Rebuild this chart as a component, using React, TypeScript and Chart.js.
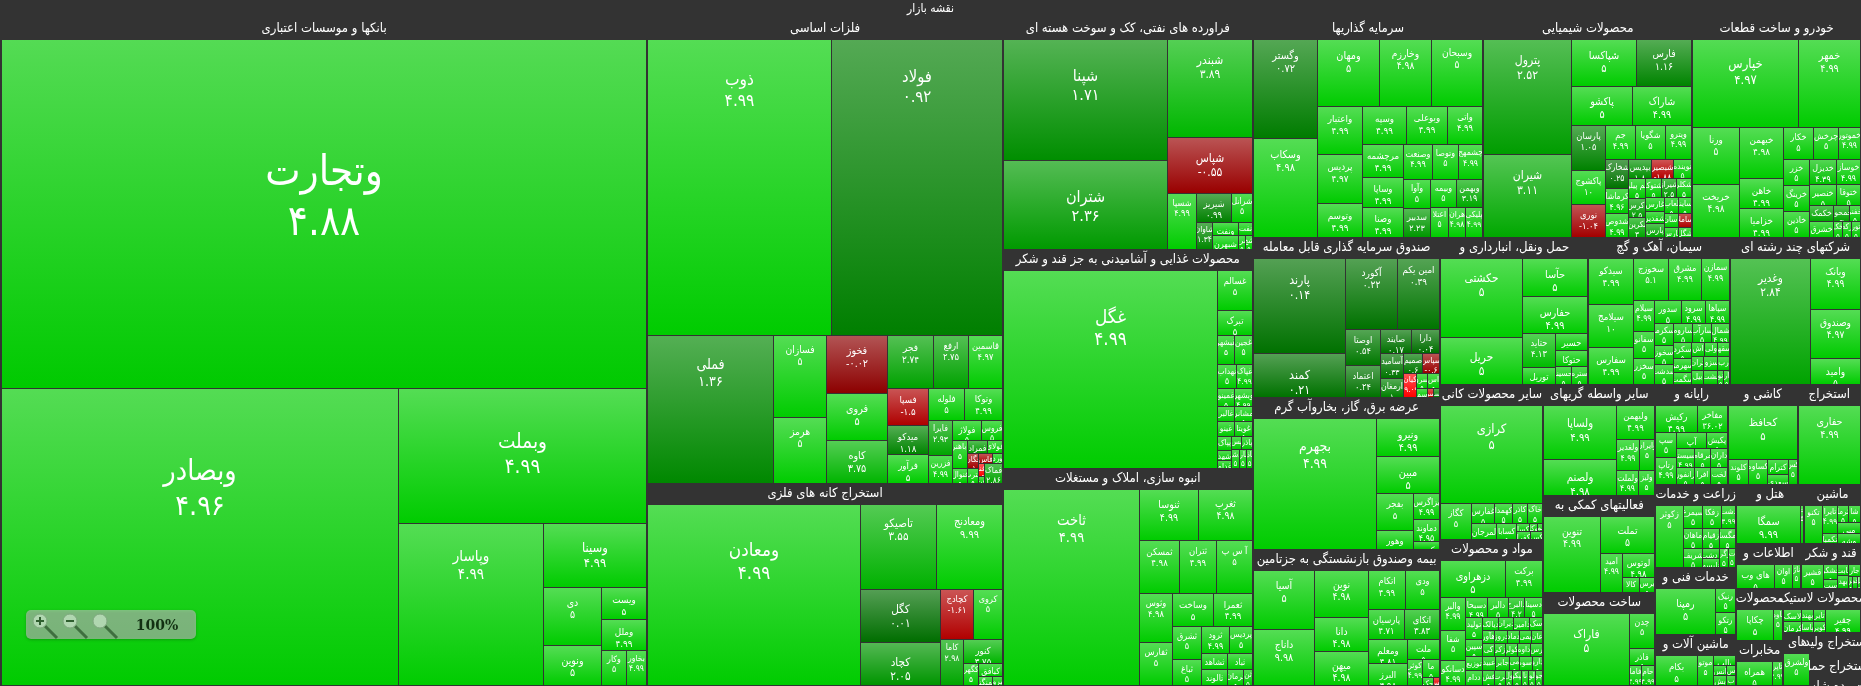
import React, { useEffect, useRef } from "react";
import { Chart, registerables, DatasetController, Element } from "chart.js";

// A leaf is [name, percent change, market weight]; ["h"|"v", ...children] nests groups side by side or stacked.
const banks = ["v", ["وتجارت", 4.88, 224407], ["h", ["وبصادر", 4.96, 117612], ["v", ["وبملت", 4.99, 33345], ["h", ["وپاسار", 4.99, 23328], ["v", ["وسینا", 4.99, 6592], ["h", ["v", ["دی", 5, 3364], ["ونوین", 5, 2320]], ["v", ["ویست", 5, 1440], ["وملل", 4.99, 1395], ["h", ["وکار", 5, 875], ["بخاور", 4.99, 700
]]]]]
]]]];
const metals = ["v", ["h", ["ذوب", 4.99, 53600], ["فولاد", 0.92, 50100]], ["h", ["فملی", 1.36, 18300], ["v", ["فسازان", 5, 4293], ["هرمز", 5, 3500]], ["v", ["فخوز", -0.02, 3420], ["فروی", 5, 2820], ["کاوه", 3.75, 2580]], ["v", ["h", ["فجر", 2.74, 2397], ["ارفع", 2.75, 1836], ["قاسمین", 4.97, 1734]], ["h", ["v", ["فسپا", -1.5, 1512], ["میدکو", 1.18, 1218], ["فرآور", 5, 1176]], ["v", ["h", ["فلوله", 5, 1152], ["وتوکا", 4.99, 1216]], ["h", ["v", ["فایرا", 2.93, 805], ["فزرین", 4.99, 644]], ["v", ["h", ["فولاژ", 5, 560], ["فروس", 5, 400]], ["h", ["v", ["اباهنر", 5, 420], ["فنوال", 5, 225]], ["v", ["h", ["فمراد", 2.5, 260], ["فولای", 5, 195]], ["h", ["v", ["فگان", -1.0, 165], ["فترب", 5, 165]], ["v", ["h", ["فاس", -1.2, 140], ["ورد", 5, 100]], ["h", ["v", ["فنا", -5, 72], ["فن", 5, 42]], ["فماک", 2.86, 342
]]]]]
]]]]]
]]];
const mining = ["h", ["ومعادن", 4.99, 38372], ["v", ["h", ["تاصیکو", 3.55, 6375], ["ومعادنج", 9.99, 5610]], ["h", ["v", ["کگل", 0.01, 4187], ["کچاد", 2.05, 3397]], ["v", ["h", ["کچادج", -1.61, 1650], ["کروی", 5, 1450]], ["h", ["کاما", 2.98, 1058], ["v", ["کنور", 3.75, 897], ["h", ["کگهر", 5, 330], ["v", ["کبافق", 5, 312], ["h", ["کمنگنز", 5, 126], ["کپرور", 5, 90
]]]]]
]]]]];
const oil = ["h", ["v", ["شپنا", 1.71, 19320], ["شتران", 2.36, 14329]], ["v", ["شبندر", 3.89, 8160], ["شپاس", -0.55, 4675], ["h", ["شسپا", 4.99, 1585], ["v", ["h", ["شیریز", 0.99, 980], ["شرانل", 5, 588]], ["h", ["شاوان", 1.34, 432], ["v", ["h", ["ونفت", 5, 325], ["نفت", 5, 169]], ["h", ["شبهرن", 5, 350], ["شراز", 5, 98], ["شج", 5, 84
]]]]]
]]];
const food = ["h", ["غگل", 4.99, 41778], ["v", ["غسالم", 5, 1368], ["تبرک", 5, 864], ["h", ["غبشهر", 5, 504], ["غجین", 5, 504]], ["h", ["نهداب", 5, 460], ["غپاک", 4.99, 368]], ["h", ["غمینو", 5, 306], ["وبشهر", 4.99, 306]], ["h", ["غالبر", 5, 270], ["مشانر", 5, 270]], ["h", ["غینو", 5, 252], ["غویتا", 5, 252]], ["h", ["v", ["پپاک", 5, 196], ["شهد", 5, 140], ["غدام", 5, 112]], ["v", ["h", ["پس", 5, 132], ["پاذر", 5, 132]], ["h", ["غدشت", 5, 150], ["غمارگ", 5, 130], ["غاذر", 5, 110
]]]]]
];
const building = ["h", ["ثاخت", 4.99, 26264], ["v", ["h", ["ثنوسا", 4.99, 2950], ["ثغرب", 4.98, 2700]], ["h", ["ثمسکن", 4.98, 2120], ["ثتران", 4.99, 1961], ["آ س پ", 5, 1908]], ["h", ["v", ["وثوس", 4.98, 1617], ["ثفارس", 5, 1452]], ["v", ["h", ["وساخت", 5, 1353], ["ثعمرا", 4.99, 1254]], ["h", ["v", ["ثشرق", 5, 924], ["ثباغ", 5, 756]], ["v", ["h", ["ثرود", 4.99, 728], ["پردیس", 5, 598]], ["h", ["v", ["ثشاهد", 5, 390], ["ثالوند", 5, 416]], ["v", ["ثباد", 5, 375], ["h", ["ثرمان", 5, 256], ["ثن", 5, 144
]]]]]
]]]]];
const investment = ["h", ["v", ["وگستر", 0.72, 6336], ["وسکاب", 4.98, 6336]], ["v", ["h", ["ومهان", 5, 4092], ["وخارزم", 4.98, 3432], ["وسبحان", 5, 3432]], ["h", ["v", ["واعتبار", 4.99, 2160], ["پردیس", 4.97, 2160], ["وتوسم", 4.99, 1530]], ["v", ["h", ["وسپه", 4.99, 1628], ["وبوعلی", 4.99, 1517], ["واتی", 4.99, 1332]], ["h", ["v", ["مرچشمه", 4.99, 1320], ["وساپا", 4.99, 1200], ["وصنا", 4.99, 1200]], ["v", ["h", ["وصنعت", 4.99, 1015], ["وتوصا", 5, 910], ["چشمهج", 4.99, 875]], ["h", ["v", ["وآوا", 5, 783], ["سدبیر", 2.23, 783]], ["v", ["h", ["وبیمه", 5, 702], ["وبهمن", 3.19, 729]], ["h", ["اعتلا", 5, 522], ["هران", 4.98, 493], ["پلیکی", 4.99, 522
]]]]]
]]]]];
const chemicals = ["h", ["v", ["پترول", 2.52, 9775], ["شیران", 3.11, 7055]], ["v", ["h", ["شپاکسا", 5, 2925], ["فارس", 1.16, 2520]], ["h", ["پاکشو", 5, 2340], ["شاراک", 4.99, 2262]], ["h", ["v", ["پارسان", 1.05, 1452], ["پاکشوج", 10, 1089], ["نوری", -1.04, 1089]], ["v", ["h", ["جم", 4.99, 990], ["شگویا", 5, 990], ["ویترو", 4.99, 858]], ["h", ["v", ["شخارک", 0.25, 638], ["کرماشا", 4.96, 550], ["شدوص", 4.99, 528]], ["v", ["h", ["بپدیس", 1.8, 414], ["شبصیر", -1.88, 396], ["نوینده", 5, 324]], ["h", ["v", ["جم پیلن", 5, 340], ["اکرس", 2.5, 323], ["نکرین", 3, 340]], ["v", ["h", ["شتوکا", 5, 288], ["شیراز", 2.5, 288], ["شکلر", 5, 270]], ["h", ["v", ["غارس", 5, 252], ["شفدیر", 5, 216], ["پارس", 3, 252]], ["v", ["h", ["لعاب", 5, 224], ["ساینا", 5, 208]], ["h", ["اسان", 5, 196], ["ساملا", -1.5, 182]], ["h", ["پارس", 5, 140], ["شگل", 5, 130
]]]]]
]]]]]
]];
const automotive = ["v", ["h", ["خپارس", 4.97, 9202], ["خمهر", 4.99, 5332]], ["h", ["v", ["ورنا", 5, 2622], ["خریخت", 4.98, 2438]], ["v", ["خبهمن", 4.98, 2193], ["خاهن", 4.99, 1290], ["خزامیا", 4.99, 1247]], ["v", ["h", ["خکار", 5, 930], ["چرخش", 5, 806], ["خموتور", 4.99, 682]], ["h", ["v", ["خزر", 5, 650], ["خرینگ", 5, 650], ["خاذین", 5, 650]], ["v", ["h", ["خدیزل", 4.39, 644], ["خوساز", 4.99, 575]], ["h", ["خنصیر", 5, 560], ["ختوقا", 5, 500]], ["h", ["v", ["خکمک", 3, 384], ["خشرق", 5, 384]], ["v", ["h", ["خمحور", 3, 256], ["خفنر", 5, 176]], ["h", ["خک", 5, 144], ["رکه", 5, 144], ["تور", 5, 144
]]]]]
]]]];
const etf = ["h", ["v", ["پارند", 0.14, 8640], ["کمند", 0.21, 3960]], ["v", ["h", ["آکورد", 0.22, 3640], ["امین یکم", 0.39, 3010]], ["h", ["v", ["اوصتا", 0.54, 1260], ["اعتماد", 0.24, 1120]], ["v", ["h", ["صایند", 0.17, 720], ["دارا", 0.04, 672]], ["h", ["v", ["آسامید", 0.33, 550], ["ارمغان", 1, 418]], ["v", ["h", ["صمیم", 0.6, 380], ["سپاس", -0.6, 340]], ["h", ["کیان", -9.09, 312], ["v", ["h", ["سرو", 5, 165], ["اس", 5, 180]], ["h", ["سم", 5, 99], ["سر", -3, 54], ["سا", 1, 54
]]]]]
]]]]];
const power = ["h", ["بجهرم", 4.99, 15840], ["v", ["ونیرو", 4.99, 2405], ["مبین", 5, 2275], ["h", ["v", ["بفجر", 5, 1369], ["وهور", 5, 703]], ["v", ["بزاگرس", 4.99, 676], ["دماوند", 4.95, 572], ["بکهنوج", 5, 208
]]]]];
const insurance = ["h", ["v", ["آسیا", 5, 3540], ["داناج", 9.98, 3360]], ["v", ["نوین", 4.98, 2491], ["دانا", 4.98, 1802], ["میهن", 4.98, 1802]], ["v", ["h", ["اتکام", 4.99, 1406], ["ودی", 5, 1330]], ["h", ["پارسیان", 4.71, 1044], ["اتکای", 3.83, 1044]], ["h", ["v", ["ومعلم", 4.81, 936], ["البرز", 4.98, 858]], ["v", ["ملت", 5, 640], ["h", ["کوثر", 4.99, 390], ["v", ["ما", 5, 306], ["h", ["حک", 5, 88], ["بس", -4, 48
]]]]]
]]];
const transport = ["h", ["v", ["حکشتی", 5, 6320], ["حریل", 5, 3713]], ["v", ["حآسا", 5, 2442], ["حفارس", 4.99, 2376], ["h", ["v", ["حتاید", 4.13, 1122], ["توریل", 5, 561]], ["v", ["حسیر", 5, 544], ["حتوکا", 5, 512], ["h", ["حسینا", 5, 288], ["ستره", 5, 288
]]]]]
];
const cement = ["h", ["v", ["سیدکو", 4.99, 1978], ["سیلامج", 10, 1849], ["سفارس", 4.99, 1591]], ["v", ["h", ["سخوزج", 5.1, 1476], ["مشرق", 4.99, 1353], ["سمازن", 4.99, 1148]], ["h", ["v", ["سیلام", 4.99, 651], ["سفانو", 5, 588], ["سخزر", 5, 546]], ["v", ["h", ["سدور", 5, 598], ["سرود", 4.99, 529], ["سپاها", 4.99, 552]], ["h", ["v", ["سکرما", 5, 396], ["سخوز", 5, 342], ["سدشت", 5, 378]], ["v", ["h", ["ساروم", 5, 342], ["سارآب", 5, 342], ["شمال", 4.99, 324]], ["h", ["v", ["سکرد", 5, 272], ["سهرمز", 5, 238], ["سگمت", 5, 204]], ["v", ["h", ["اش", 5, 182], ["ولی", 5, 168], ["سقها", 5, 168]], ["h", ["تران", 5, 168], ["سزوا", 5, 182], ["رب", 5, 168]], ["h", ["بیل", 5, 168], ["نشت", 5, 182], ["نو", 5, 84], ["ار", 5, 84
]]]]]
]]]]];
const multiIndustry = ["h", ["وغدیر", 2.84, 10000], ["v", ["وبانک", 4.99, 2499], ["وصندوق", 4.97, 2450], ["وامید", 5, 1274
]]];
const otherMinerals = ["v", ["کرازی", 5, 9595], ["h", ["کگاز", 5, 1073], ["v", ["h", ["غفارس", 5, 440], ["کهمدا", 5, 360], ["کاذر", 5, 300], ["خاک", 5, 300]], ["h", ["لمرجان", 5, 374], ["کسابا", 5, 306], ["v", ["h", ["کسا", 5, 96], ["وکا", 5, 64], ["لم", 5, 40]], ["h", ["کفرا", 5, 110], ["کس", 5, 90
]]]]]
]];
const materials = ["v", ["h", ["دزهراوی", 5, 2240], ["برکت", 4.99, 1295]], ["h", ["v", ["والبر", 4.99, 782], ["شفا", 5, 690], ["دسانکو", 4.99, 575]], ["v", ["h", ["دسبحا", 4.99, 418], ["دالبر", 5, 399], ["دالبرج", 4.2, 323], ["دسینا", 5, 342]], ["h", ["v", ["تولید", 5, 368], ["سپین", 5, 272], ["توزیع", 5, 224], ["ددام", 5, 240]], ["v", ["h", ["دیالک", 5, 200], ["دیران", 5, 180], ["دامین", 5, 200], ["سک", 5, 160]], ["h", ["هآور", 5, 150], ["دروز", 5, 170], ["دماد", 5, 150], ["یمی", 5, 150], ["عان", 5, 150]], ["h", ["کی", 5, 150], ["ازکی", 5, 150], ["کولر", 5, 150], ["داوه", 5, 160], ["رس", 5, 160]], ["h", ["عبید", 5, 170], ["جابر", 5, 170], ["می", 5, 130], ["اسوه", 5, 170], ["دارو", 5, 130]], ["h", ["فش", 5, 170], ["برت", 5, 170], ["ول", 5, 100], ["بیکو", 5, 130], ["نا", 5, 100], ["لو", 5, 100], ["جو", 5, 100
]]]]]
]];
const brokers = ["h", ["v", ["ولساپا", 4.99, 3780], ["ولصنم", 4.98, 2520]], ["v", ["ولبهمن", 4.99, 1254], ["h", ["ولغدیر", 4.99, 660], ["وایران", 5, 450]], ["h", ["ولملت", 4.99, 528], ["ولیز", 5, 384
]]]];
const support = ["h", ["تنوین", 4.99, 4180], ["v", ["تملت", 5, 1961], ["h", ["امید", 4.99, 858], ["v", ["لوتوس", 4.98, 744], ["h", ["کالا", 5, 240], ["برس", 5, 225
]]]]]
];
const fabricated = ["h", ["فاراک", 5, 6048], ["v", ["چدن", 5, 875], ["فاذر", 5, 425], ["h", ["فاما", 4.99, 240], ["حام", 4.99, 260
]]]];
const computing = ["v", ["h", ["رکیش", 4.99, 1066], ["مفاخر", 36.02, 780]], ["h", ["v", ["سپ", 5, 520], ["رتاپ", 4.99, 540]], ["v", ["h", ["آپ", 5, 480], ["پکیش", 5, 336]], ["h", ["رسیستم", 4.99, 324], ["مرقام", 5, 288], ["داران", 5, 306]], ["h", ["رانفور", 5, 288], ["افرا", 5, 256], ["لخت", 5, 272
]]]]];
const ceramics = ["v", ["کحافظ", 5, 3726], ["h", ["کلوند", 5, 500], ["کساوه", 5, 475], ["v", ["کترام", 5, 315], ["سعدی", 5, 210]], ["کس", 5, 225
]]];
const extraction = ["h", ["حفاری", 4.99, 4977]];
const farming = ["h", ["زکوثر", 5, 1674], ["v", ["h", ["سیمرغ", 5, 437], ["زفکا", 5, 437], ["دشت", 4.99, 322]], ["h", ["ماهان", 5, 361], ["زقیام", 5, 323], ["مگسا", 5, 304]], ["h", ["شریف", 5, 361], ["v", ["زدشت", 5, 170], ["تلیسه", 5, 153]], ["زگرا", 5, 171], ["ت", 5, 133
]]]];
const technical = ["h", ["رمپنا", 5, 2714], ["v", ["رنیک", 5, 480], ["رتکو", 5, 440
]]];
const machinery = ["h", ["بکام", 5, 1230], ["موتو", 5, 450], ["v", ["بالب", 5, 220], ["h", ["انس", 5, 130], ["س", 5, 90]], ["h", ["بش", 5, 130], ["ب", 5, 90
]]]];
const hotels = ["h", ["سمگا", 9.99, 2432], ["ت", 5, 114]];
const equipment = ["h", ["تکنو", 5, 646], ["v", ["تایرا", 4.99, 420], ["تکمبا", 5, 150]], ["v", ["h", ["ثرما", 5, 170], ["شا", 5, 204]], ["مبی", 5, 242], ["وشه", 5, 220
]]];
const information = ["h", ["های وب", 5, 864], ["اوان", 5, 408], ["ناژ", 5, 192]];
const sugar = ["h", ["قشیر", 5, 504], ["v", ["قشکر", 5, 210], ["ست", 5, 126]], ["v", ["ثابت", 5, 110], ["بهد", 5, 130]], ["v", ["جار", 5, 140], ["h", ["قن", 5, 50], ["قم", 5, 50], ["قل", 5, 40
]]]];
const paper = ["h", ["چکاپا", 5, 1085], ["ناوه", 5, 270]];
const telecom = ["h", ["همراه", 5, 805], ["تایر", 4.99, 230]];
const rubber = ["h", ["v", ["لاسک", 5, 216], ["کرمان", 5, 198]], ["v", ["بهند", 5, 144], ["پاسا", 5, 132]], ["v", ["تایر", 5, 132], ["کویر", 5, 121]], ["چقیر", 4.99, 805]];
const products = ["h", ["ولشرق", 5, 780], ["", null, 60]];

const sectorTitles: any = {
  banks: "بانکها و موسسات اعتباری", metals: "فلزات اساسی", mining: "استخراج کانه های فلزی",
  oil: "فراورده های نفتی، کک و سوخت هسته ای", food: "محصولات غذایی و آشامیدنی به جز قند و شکر", building: "انبوه سازی، املاک و مستغلات",
  investment: "سرمایه گذاریها", chemicals: "محصولات شیمیایی", automotive: "خودرو و ساخت قطعات",
  etf: "صندوق سرمایه گذاری قابل معامله", power: "عرضه برق، گاز، بخاروآب گرم", insurance: "بیمه وصندوق بازنشستگی به جزتامین",
  transport: "حمل ونقل، انبارداری و", cement: "سیمان، آهک و گچ", multiIndustry: "شرکتهای چند رشته ای",
  otherMinerals: "سایر محصولات کانی", materials: "مواد و محصولات", brokers: "سایر واسطه گریهای", support: "فعالیتهای کمکی به", fabricated: "ساخت محصولات",
  computing: "رایانه و", ceramics: "کاشی و", extraction: "استخراج", farming: "زراعت و خدمات", technical: "خدمات فنی و", machinery: "ماشین آلات و",
  hotels: "هتل و", equipment: "ماشین", information: "اطلاعات و", sugar: "قند و شکر", paper: "محصولات", telecom: "مخابرات", rubber: "محصولات لاستیک",
  products: "های", quarry: "استخراج ولید", wood: "استخراج حمل", leather: "ت رده شاں",
};
const sectorWeights: any = {
  banks: 431505, metals: 165540, mining: 71912, oil: 57750, food: 54750, building: 54250, investment: 50589, chemicals: 45771, automotive: 37011,
  etf: 30080, power: 28576, insurance: 25568, transport: 21756, cement: 20874, multiIndustry: 19257, otherMinerals: 15965, materials: 15038,
  brokers: 12432, support: 10864, fabricated: 10416, computing: 7300, ceramics: 6950, extraction: 6350, farming: 6723, technical: 5427, machinery: 4131,
  hotels: 4012, equipment: 3363, information: 2925, sugar: 2700, paper: 2444, telecom: 2115, rubber: 3432, products: 1537, quarry: 1176, wood: 980, leather: 441,
};
const sectorCells: any = {
  banks, metals, mining, oil, food, building, investment, chemicals, automotive, etf, power, insurance, transport, cement, multiIndustry,
  otherMinerals, materials, brokers, support, fabricated, computing, ceramics, extraction, farming, technical, machinery, hotels, equipment,
  information, sugar, paper, telecom, rubber, products, quarry: null, wood: null, leather: null,
};
const marketTree = ["h", "banks", ["v", "metals", "mining"], ["v", "oil", "food", "building"],
  ["v", ["h", "investment", "chemicals", "automotive"],
    ["h", ["v", "etf", "power", "insurance"],
      ["v", ["h", "transport", "cement", "multiIndustry"],
        ["h", ["v", "otherMinerals", "materials"], ["v", "brokers", "support", "fabricated"],
          ["v", ["h", "computing", "ceramics", "extraction"],
            ["h", ["v", "farming", "technical", "machinery"],
              ["v", ["h", "hotels", "equipment"], ["h", "information", "sugar"],
                ["h", ["v", "paper", "telecom"], ["v", "rubber", ["h", "products", ["v", "quarry", "wood", "leather"
]]]]]
]]]]]
]];

const chartTitle = "نقشه بازار";
const zoomLabel = "100%";
const PLOT = { x0: 1, y0: 19, x1: 1861, y1: 686, header: 21 };
const ARABIC_FONT = '"DejaVu Sans Condensed", "DejaVu Sans", sans-serif';

const isSplit = (n: any) => Array.isArray(n) && (n[0] === "h" || n[0] === "v");
const weightOf = (n: any): number =>
  typeof n === "string" ? sectorWeights[n] : isSplit(n) ? n.slice(1).reduce((s: number, c: any) => s + weightOf(c), 0) : n[2];

function place(node: any, x0: number, y0: number, x1: number, y1: number, out: any[]) {
  if (isSplit(node)) {
    const kids = node.slice(1);
    const total = kids.reduce((s: number, c: any) => s + weightOf(c), 0);
    let acc = 0;
    for (const kid of kids) {
      const a = acc / total;
      acc += weightOf(kid);
      const b = acc / total;
      if (node[0] === "h") place(kid, x0 + (x1 - x0) * a, y0, x0 + (x1 - x0) * b, y1, out);
      else place(kid, x0, y0 + (y1 - y0) * a, x1, y0 + (y1 - y0) * b, out);
    }
  } else if (typeof node === "string") {
    const h = Math.min(PLOT.header, y1 - y0);
    out.push({ kind: "header", x: x0, y: y0, x0, y0, x1, y1: y0 + h, name: sectorTitles[node] });
    if (sectorCells[node]) place(sectorCells[node], x0 + 1, y0 + h, x1, y1, out);
  } else if (node[1] !== null) {
    out.push({ kind: "leaf", x: x0, y: y0, x0, y0, x1, y1, name: node[0], pct: node[1] });
  }
}

const toPersian = (v: number) => String(v).replace(/\d/g, (d) => "۰۱۲۳۴۵۶۷۸۹"[Number(d)]);
function baseColor(p: number): number[] {
  if (p < 0) return [Math.min(255, 140 + (-p / 5) * 115), 0, 0];
  return [0, 110 + (Math.min(p, 5) / 5) * 94, 0];
}
const lighten = (c: number[], k: number) => c.map((v) => Math.round(v + (255 - v) * k));
const css = (c: number[]) => `rgb(${Math.round(c[0])},${Math.round(c[1])},${Math.round(c[2])})`;

class TreeRect extends Element {
  static id = "treeRect";
  static defaults = {};
  draw(ctx: CanvasRenderingContext2D) {
    const e: any = this;
    const X0 = Math.round(e.left), Y0 = Math.round(e.top), X1 = Math.round(e.right), Y1 = Math.round(e.bottom);
    if (e.kind === "header") {
      ctx.save();
      ctx.fillStyle = "#ffffff";
      ctx.font = `13px ${ARABIC_FONT}`;
      ctx.textAlign = "center";
      ctx.textBaseline = "middle";
      (ctx as any).direction = "rtl";
      ctx.fillText(e.name, (e.left + e.right) / 2, Y0 + 10);
      ctx.restore();
      return;
    }
    const w = X1 - X0 - 1, h = Y1 - Y0 - 1;
    if (w <= 0 || h <= 0) return;
    const base = baseColor(e.pct);
    const g = ctx.createLinearGradient(0, Y0, 0, Y0 + h);
    g.addColorStop(0, css(lighten(base, 0.33)));
    g.addColorStop(1, css(base));
    ctx.save();
    ctx.fillStyle = g;
    ctx.fillRect(X0, Y0, w, h);
    ctx.beginPath();
    ctx.rect(X0, Y0, w, h);
    ctx.clip();
    const size = 7.5 + 0.053 * w;
    const mid = Y0 + 0.235 * w + 8;
    const cx = X0 + w / 2;
    ctx.fillStyle = "#ffffff";
    ctx.textAlign = "center";
    ctx.textBaseline = "middle";
    ctx.font = `${size}px ${ARABIC_FONT}`;
    (ctx as any).direction = "rtl";
    ctx.fillText(e.name, cx, mid - size * 0.6);
    (ctx as any).direction = "ltr";
    ctx.fillText(toPersian(e.pct), cx, mid + size * 0.6);
    ctx.restore();
  }
}

class TreemapController extends DatasetController {
  static id = "treemap";
  static defaults = { dataElementType: "treeRect", datasetElementType: false };
  update(mode: any) {
    const meta: any = this.getMeta();
    this.updateElements(meta.data, 0, meta.data.length, mode);
  }
  updateElements(rects: any[], start: number, count: number, _mode: any) {
    const meta: any = this.getMeta();
    const cells: any[] = (this.getDataset() as any).data;
    for (let i = start; i < start + count; i++) {
      const d = cells[i];
      Object.assign(rects[i], {
        kind: d.kind, name: d.name, pct: d.pct,
        left: meta.xScale.getPixelForValue(d.x0), right: meta.xScale.getPixelForValue(d.x1),
        top: meta.yScale.getPixelForValue(d.y0), bottom: meta.yScale.getPixelForValue(d.y1),
        x: meta.xScale.getPixelForValue(d.x0), y: meta.yScale.getPixelForValue(d.y0),
      });
    }
  }
  draw() {
    const meta: any = this.getMeta();
    const ctx = (this as any).chart.ctx;
    meta.data.forEach((el: any) => el.draw(ctx));
  }
}

Chart.register(...registerables, TreeRect as any, TreemapController as any);

const backdrop = {
  id: "backdrop",
  beforeDraw(chart: any) {
    const { ctx, width, height } = chart;
    ctx.save();
    ctx.fillStyle = "#333333";
    ctx.fillRect(0, 0, width, height);
    ctx.restore();
  },
};

const zoomBadge = {
  id: "zoomBadge",
  afterDraw(chart: any) {
    const ctx = chart.ctx;
    ctx.save();
    ctx.beginPath();
    ctx.roundRect(26, 610, 170, 29, 5);
    ctx.fillStyle = "rgba(190,190,190,0.62)";
    ctx.shadowColor = "rgba(0,0,0,0.35)";
    ctx.shadowBlur = 3;
    ctx.shadowOffsetY = 1;
    ctx.fill();
    ctx.shadowColor = "transparent";
    [40, 70, 100].forEach((x, i) => {
      ctx.strokeStyle = "#3f6f3f";
      ctx.lineWidth = 3;
      ctx.beginPath();
      ctx.moveTo(x + 5, 626);
      ctx.lineTo(x + 17, 638);
      ctx.stroke();
      ctx.beginPath();
      ctx.arc(x, 621, 7, 0, Math.PI * 2);
      ctx.fillStyle = "rgba(200,230,200,0.7)";
      ctx.fill();
      ctx.lineWidth = 1;
      ctx.strokeStyle = "#7fa87f";
      ctx.stroke();
      if (i < 2) {
        ctx.fillStyle = "#2f5f2f";
        ctx.fillRect(x - 4, 620, 8, 2);
        if (i === 0) ctx.fillRect(x - 1, 617, 2, 8);
      }
    });
    ctx.fillStyle = "#123012";
    ctx.font = 'bold 14px "DejaVu Serif", serif';
    ctx.textAlign = "center";
    ctx.textBaseline = "middle";
    ctx.fillText(zoomLabel, 157, 626);
    ctx.restore();
  },
};

export default function App() {
  const ref = useRef<HTMLCanvasElement | null>(null);
  useEffect(() => {
    const cells: any[] = [];
    place(marketTree, PLOT.x0, PLOT.y0, PLOT.x1, PLOT.y1, cells);
    const leaves = cells.filter((c) => c.kind === "leaf");
    const headers = cells.filter((c) => c.kind === "header");
    const chart = new Chart(ref.current as any, {
      type: "treemap" as any,
      data: { datasets: [{ data: leaves, parsing: false } as any, { data: headers, parsing: false } as any] },
      options: {
        animation: false,
        responsive: false,
        devicePixelRatio: 1,
        layout: { padding: 0 },
        plugins: {
          legend: { display: false },
          tooltip: { enabled: false },
          title: {
            display: true,
            text: chartTitle,
            color: "#ffffff",
            font: { family: ARABIC_FONT, size: 12, weight: "normal", lineHeight: 1.2 },
            padding: { top: 2, bottom: 2.6 },
          },
        },
        scales: {
          x: { type: "linear", display: false, min: 0, max: PLOT.x1 },
          y: { type: "linear", display: false, reverse: true, min: PLOT.y0, max: PLOT.y1 },
        },
      } as any,
      plugins: [backdrop, zoomBadge],
    } as any);
    return () => chart.destroy();
  }, []);
  return (
    <div style={{ position: "fixed", left: 0, top: 0, width: 1861, height: 686, overflow: "hidden" }}>
      <canvas ref={ref} width={1861} height={686} style={{ display: "block" }} />
    </div>
  );
}
